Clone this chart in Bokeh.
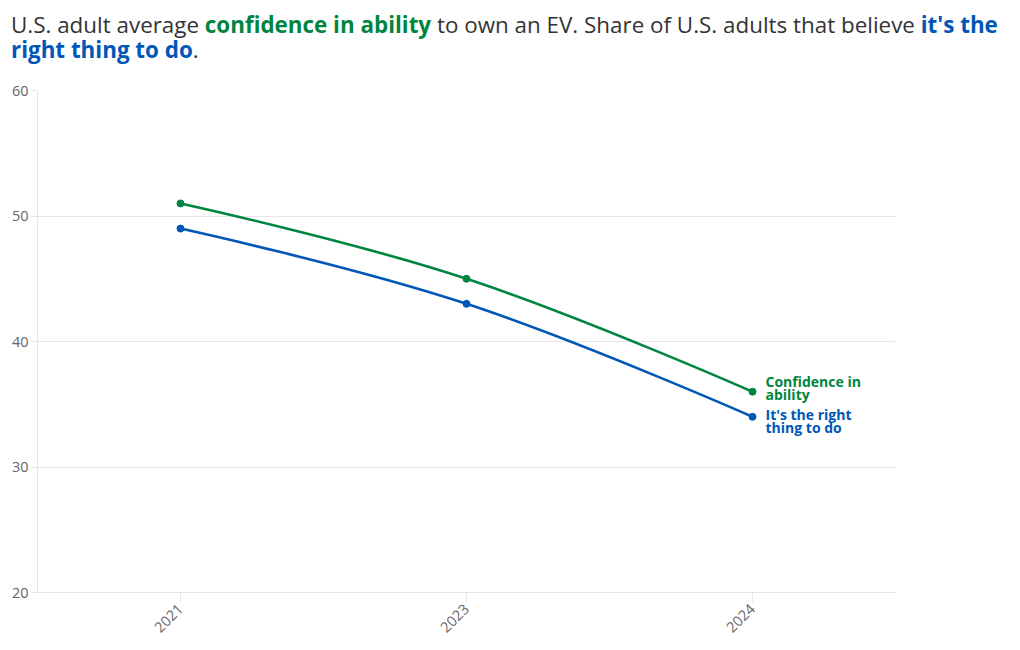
import math
from bokeh.plotting import figure
from bokeh.models import ColumnDataSource, Range1d, FixedTicker, Div
from bokeh.layouts import column
from bokeh.embed import file_html
from bokeh.resources import INLINE
from bokeh.core.properties import value

years = ["2021", "2023", "2024"]
confidence = [51, 45, 36]
right_thing = [49, 43, 34]
series_names = ["Confidence in\nability", "It's the right\nthing to do"]

GREEN = "#008540"
BLUE = "#0057b8"
FONT = "Open Sans"

xs = [i + 0.5 for i in range(len(years))]


def spline_segments(x, y, smoothing=1.5):
    """Highcharts-style spline control points computed from the data."""
    n = len(x)
    left = [None] * n
    right = [None] * n
    denom = smoothing + 1
    for i in range(1, n - 1):
        lcx = (smoothing * x[i] + x[i - 1]) / denom
        lcy = (smoothing * y[i] + y[i - 1]) / denom
        rcx = (smoothing * x[i] + x[i + 1]) / denom
        rcy = (smoothing * y[i] + y[i + 1]) / denom
        corr = 0
        if rcx != lcx:
            corr = ((rcy - lcy) * (rcx - x[i])) / (rcx - lcx) + y[i] - rcy
        lcy += corr
        rcy += corr
        left[i] = (lcx, lcy)
        right[i] = (rcx, rcy)
    seg = dict(x0=[], y0=[], x1=[], y1=[], cx0=[], cy0=[], cx1=[], cy1=[])
    for i in range(1, n):
        c0 = right[i - 1] if right[i - 1] else (x[i - 1], y[i - 1])
        c1 = left[i] if left[i] else (x[i], y[i])
        seg["x0"].append(x[i - 1]); seg["y0"].append(y[i - 1])
        seg["x1"].append(x[i]); seg["y1"].append(y[i])
        seg["cx0"].append(c0[0]); seg["cy0"].append(c0[1])
        seg["cx1"].append(c1[0]); seg["cy1"].append(c1[1])
    return seg


p = figure(
    frame_width=858, frame_height=502,
    min_border_left=37, min_border_right=110, min_border_top=20, min_border_bottom=48,
    x_range=Range1d(0, len(years)), y_range=Range1d(20, 60),
    output_backend="svg", toolbar_location=None,
)
p.outline_line_color = None
p.background_fill_color = "white"
p.border_fill_color = "white"

p.xgrid.grid_line_color = None
p.ygrid.grid_line_color = "#e6e6e6"
p.ygrid.grid_line_width = 1

p.xaxis.ticker = FixedTicker(ticks=xs)
p.xaxis.major_label_overrides = {x: y for x, y in zip(xs, years)}
p.xaxis.major_label_orientation = math.pi / 4
p.xaxis.axis_line_color = "#e6e6e6"
p.xaxis.major_tick_line_color = "#e6e6e6"
p.xaxis.major_tick_out = 10
p.xaxis.major_tick_in = 0
p.xaxis.minor_tick_line_color = None
p.xaxis.major_label_standoff = 4

p.yaxis.ticker = FixedTicker(ticks=[20, 30, 40, 50, 60])
p.yaxis.axis_line_color = "#e6e6e6"
p.yaxis.major_tick_line_color = "#e6e6e6"
p.yaxis.major_tick_out = 6
p.yaxis.major_tick_in = 0
p.yaxis.minor_tick_line_color = None
p.yaxis.major_label_standoff = 3

for ax in (p.xaxis, p.yaxis):
    ax.major_label_text_font = FONT
    ax.major_label_text_font_size = "14.5px"
    ax.major_label_text_color = "#666666"

for vals, color, name, yoff in [
    (confidence, GREEN, series_names[0], -4),
    (right_thing, BLUE, series_names[1], 4),
]:
    seg = spline_segments(xs, vals)
    p.bezier(source=ColumnDataSource(seg), x0="x0", y0="y0", x1="x1", y1="y1",
             cx0="cx0", cy0="cy0", cx1="cx1", cy1="cy1",
             line_color=color, line_width=2.6)
    p.scatter(xs, vals, size=7, color=color)
    p.text(x=[xs[-1]], y=[vals[-1]], text=[name],
           x_offset=13, y_offset=yoff,
           text_font=value(FONT), text_font_size="14px", text_font_style="bold",
           text_color=color, text_baseline="middle", text_align="left",
           text_line_height=0.68)

line_style = "display:block;height:25px;line-height:25px;overflow:visible;"
seg_style = "display:inline-block;height:25px;line-height:25px;vertical-align:top;overflow:visible;"
title_html = (
    f'<div style="font-family:\'{FONT}\';font-size:22.4px;color:#333333;'
    f'white-space:pre;padding-left:11px;padding-top:12px;">'
    f'<div style="{line_style}">'
    f'<span style="{seg_style}">U.S. adult average </span>'
    f'<span style="{seg_style}font-weight:bold;color:{GREEN}">confidence in ability</span>'
    f'<span style="{seg_style}"> to own an EV. Share of U.S. adults that believe </span>'
    f'<span style="{seg_style}font-weight:bold;color:{BLUE}">it\'s the</span>'
    f'</div>'
    f'<div style="{line_style}">'
    f'<span style="{seg_style}font-weight:bold;color:{BLUE}">right thing to do</span>'
    f'<span style="{seg_style}">.</span>'
    f'</div>'
    f'</div>'
)
title = Div(text=title_html, width=1005, height=70, margin=(0, 0, 0, 0))

layout = column(title, p, spacing=0, margin=(0, 0, 0, 0))

with open("out.html", "w") as f:
    f.write(file_html(layout, INLINE))
